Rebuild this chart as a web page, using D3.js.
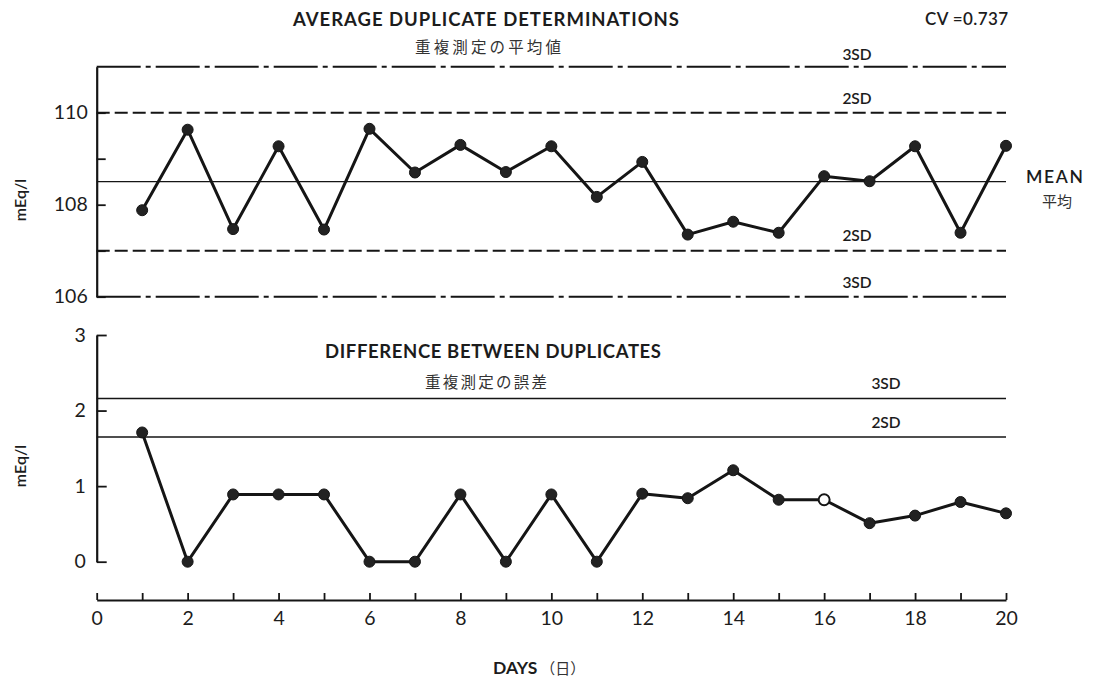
<!DOCTYPE html>
<html>
<head>
<meta charset="utf-8">
<script src="https://cdn.jsdelivr.net/npm/d3@7"></script>
<style>
  html, body { margin: 0; padding: 0; background: #fff; }
  svg { display: block; }
  text { fill: #1c1c1c; }
  .lat { font-family: Lato, "Open Sans", "DejaVu Sans", sans-serif; }
  .cjk { font-family: "Noto Sans CJK JP", "Noto Sans CJK SC", sans-serif; fill: #333; }
</style>
</head>
<body>
<svg id="chart" width="1093" height="678"></svg>
<script>
// Days of the control period
const days = [1, 2, 3, 4, 5, 6, 7, 8, 9, 10, 11, 12, 13, 14, 15, 16, 17, 18, 19, 20];

// Average of the duplicate determinations, mEq/l
const avgValues = [107.88, 109.63, 107.47, 109.27, 107.46, 109.65, 108.70, 109.30, 108.71, 109.27,
                   108.17, 108.93, 107.35, 107.63, 107.39, 108.62, 108.51, 109.27, 107.39, 109.28];

// Difference between the duplicates, mEq/l
const diffValues = [1.71, 0, 0.89, 0.89, 0.89, 0, 0, 0.89, 0, 0.89,
                    0, 0.90, 0.84, 1.21, 0.82, 0.82, 0.51, 0.61, 0.79, 0.64];

// Control limits
const avgMean = 108.5;
const avgLimitLabels = ["3SD", "2SD", "2SD", "3SD"];
const avgLimitValues = [111, 110, 107, 106];
const diffLimitLabels = ["3SD", "2SD"];
const diffLimitValues = [2.16, 1.65];

// Axis ticks
const xTicks = d3.range(0, 21);
const xTickLabels = [0, 2, 4, 6, 8, 10, 12, 14, 16, 18, 20];
const avgTicks = [106, 107, 108, 109, 110];
const avgTickLabels = [106, 108, 110];
const diffTicks = [0, 1, 2, 3];

// Day drawn with a hollow marker in the difference chart
const hollowDays = new Set([16]);

const svg = d3.select("#chart");
const ink = "#151515";

const x = d3.scaleLinear().domain([0, 20]).range([96.7, 1006]);
const yAvg = d3.scaleLinear().domain([106, 111]).range([296.7, 66.7]);
const yDiff = d3.scaleLinear().domain([0, 3]).range([561.7, 335]);

// ---------- Upper chart: averages ----------
const gTop = svg.append("g");

// control limit lines
const dashFor = v => (v === 111 || v === 106) ? "44,5,5,5" : "13,5";
gTop.selectAll("line.limit").data(avgLimitValues).join("line")
  .attr("class", "limit")
  .attr("x1", x(0)).attr("x2", x(20))
  .attr("y1", d => yAvg(d)).attr("y2", d => yAvg(d))
  .attr("stroke", ink).attr("stroke-width", 2)
  .attr("stroke-dasharray", d => dashFor(d));

gTop.append("line")
  .attr("x1", x(0)).attr("x2", x(20))
  .attr("y1", yAvg(avgMean)).attr("y2", yAvg(avgMean))
  .attr("stroke", ink).attr("stroke-width", 1.3);

// left axis with inward ticks
const avgAxis = d3.axisLeft(yAvg)
  .tickValues(avgTicks)
  .tickSizeInner(-9).tickSizeOuter(0).tickPadding(9)
  .tickFormat(d => avgTickLabels.includes(d) ? d : "");
gTop.append("g").attr("transform", `translate(${x(0)},0)`).call(avgAxis)
  .call(g => g.select(".domain").attr("stroke", ink).attr("stroke-width", 2.2))
  .call(g => g.selectAll(".tick line").attr("stroke", ink).attr("stroke-width", 1.8))
  .call(g => g.selectAll(".tick text").attr("class", "lat").attr("font-size", 19.5).attr("fill", "#1c1c1c"));

// limit labels
const avgLabelY = [60, 104, 241, 288];
gTop.selectAll("text.limlab").data(avgLimitLabels).join("text")
  .attr("class", "lat limlab")
  .attr("x", 857).attr("y", (d, i) => avgLabelY[i])
  .attr("text-anchor", "middle").attr("font-size", 15.5).attr("font-weight", 600)
  .text(d => d);

// series
const avgLine = d3.line().x((d, i) => x(days[i])).y(d => yAvg(d));
gTop.append("path").datum(avgValues)
  .attr("d", avgLine).attr("fill", "none")
  .attr("stroke", ink).attr("stroke-width", 3).attr("stroke-linejoin", "round");
gTop.selectAll("circle").data(avgValues).join("circle")
  .attr("cx", (d, i) => x(days[i])).attr("cy", d => yAvg(d))
  .attr("r", 5.5).attr("fill", "#222").attr("stroke", ink).attr("stroke-width", 1);

// titles
gTop.append("text").attr("class", "lat")
  .attr("x", 293).attr("y", 26).attr("font-size", 18.5).attr("font-weight", 700)
  .attr("textLength", 386).attr("lengthAdjust", "spacing")
  .text("AVERAGE DUPLICATE DETERMINATIONS");
gTop.append("text").attr("class", "cjk")
  .attr("x", 415).attr("y", 53).attr("font-size", 15.5)
  .attr("textLength", 146).attr("lengthAdjust", "spacing")
  .text("重複測定の平均値");
gTop.append("text").attr("class", "lat")
  .attr("x", 925).attr("y", 25).attr("font-size", 17).attr("font-weight", 600)
  .attr("textLength", 83).attr("lengthAdjust", "spacing")
  .text("CV =0.737");
gTop.append("text").attr("class", "lat")
  .attr("x", 1026).attr("y", 183).attr("font-size", 17.5).attr("font-weight", 600)
  .attr("textLength", 57).attr("lengthAdjust", "spacing")
  .text("MEAN");
gTop.append("text").attr("class", "cjk")
  .attr("x", 1057).attr("y", 207).attr("text-anchor", "middle").attr("font-size", 15)
  .text("平均");
gTop.append("text").attr("class", "lat")
  .attr("transform", "translate(26,200) rotate(-90)")
  .attr("text-anchor", "middle").attr("font-size", 16).attr("font-weight", 600)
  .text("mEq/l");

// ---------- Lower chart: differences ----------
const gBot = svg.append("g");

gBot.selectAll("line.limit").data(diffLimitValues).join("line")
  .attr("class", "limit")
  .attr("x1", x(0)).attr("x2", x(20))
  .attr("y1", d => yDiff(d)).attr("y2", d => yDiff(d))
  .attr("stroke", ink).attr("stroke-width", 1.4);

const diffAxis = d3.axisLeft(yDiff)
  .tickValues(diffTicks)
  .tickSizeInner(-10).tickSizeOuter(0).tickPadding(11)
  .tickFormat(d3.format("d"));
gBot.append("g").attr("transform", `translate(${x(0)},0)`).call(diffAxis)
  .call(g => g.select(".domain").attr("stroke", ink).attr("stroke-width", 2.2))
  .call(g => g.selectAll(".tick line").attr("stroke", ink).attr("stroke-width", 1.8))
  .call(g => g.selectAll(".tick text").attr("class", "lat").attr("font-size", 19.5).attr("fill", "#1c1c1c"));

const diffLabelY = [389, 428];
gBot.selectAll("text.limlab").data(diffLimitLabels).join("text")
  .attr("class", "lat limlab")
  .attr("x", 886).attr("y", (d, i) => diffLabelY[i])
  .attr("text-anchor", "middle").attr("font-size", 15.5).attr("font-weight", 600)
  .text(d => d);

const diffLine = d3.line().x((d, i) => x(days[i])).y(d => yDiff(d));
gBot.append("path").datum(diffValues)
  .attr("d", diffLine).attr("fill", "none")
  .attr("stroke", ink).attr("stroke-width", 3).attr("stroke-linejoin", "round");
gBot.selectAll("circle").data(diffValues).join("circle")
  .attr("cx", (d, i) => x(days[i])).attr("cy", d => yDiff(d))
  .attr("r", 5.5)
  .attr("fill", (d, i) => hollowDays.has(days[i]) ? "#fff" : "#222")
  .attr("stroke", ink).attr("stroke-width", (d, i) => hollowDays.has(days[i]) ? 2 : 1);

gBot.append("text").attr("class", "lat")
  .attr("x", 325).attr("y", 358).attr("font-size", 18.5).attr("font-weight", 700)
  .attr("textLength", 336).attr("lengthAdjust", "spacing")
  .text("DIFFERENCE BETWEEN DUPLICATES");
gBot.append("text").attr("class", "cjk")
  .attr("x", 425).attr("y", 388).attr("font-size", 15.5)
  .attr("textLength", 122).attr("lengthAdjust", "spacing")
  .text("重複測定の誤差");
gBot.append("text").attr("class", "lat")
  .attr("transform", "translate(26,466) rotate(-90)")
  .attr("text-anchor", "middle").attr("font-size", 16).attr("font-weight", 600)
  .text("mEq/l");

// ---------- Day axis ----------
const xAxis = d3.axisBottom(x)
  .tickValues(xTicks)
  .tickSizeInner(-7).tickSizeOuter(0).tickPadding(11)
  .tickFormat(d => xTickLabels.includes(d) ? d : "");
svg.append("g").attr("transform", "translate(0,600)").call(xAxis)
  .call(g => g.select(".domain").attr("stroke", ink).attr("stroke-width", 2.2))
  .call(g => g.selectAll(".tick line").attr("stroke", ink).attr("stroke-width", 1.8))
  .call(g => g.selectAll(".tick text").attr("class", "lat").attr("font-size", 19.5).attr("fill", "#1c1c1c"));

const daysTitle = svg.append("text").attr("x", 493).attr("y", 674);
daysTitle.append("tspan").attr("class", "lat").attr("font-size", 17.5).attr("font-weight", 700)
  .text("DAYS");
daysTitle.append("tspan").attr("class", "cjk").attr("font-size", 15).attr("dx", 3)
  .text("（日）");
</script>
</body>
</html>
